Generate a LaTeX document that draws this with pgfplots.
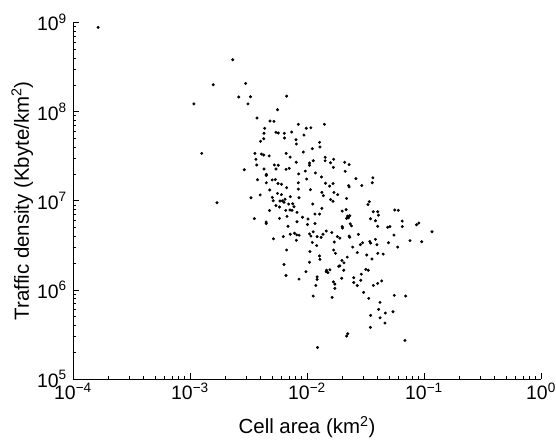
\documentclass[border=0pt]{standalone}
\usepackage{fontspec}
\setmainfont{Liberation Sans}
\usepackage{pgfplots}
\usepackage{pgfplotstable}
\pgfplotsset{compat=1.18}

% Cell area (km^2) versus traffic density (Kbyte/km^2), one row per cell
\pgfplotstableread{
area density
1.64e-4 8.83e8
1.08e-3 1.22e8
1.26e-3 3.40e7
1.58e-3 2.00e8
1.70e-3 9.50e6
2.32e-3 3.82e8
2.61e-3 1.46e8
2.99e-3 2.07e8
3.29e-3 1.47e8
3.13e-3 1.22e8
2.91e-3 2.23e7
3.32e-3 1.08e7
6.70e-3 1.49e8
5.60e-3 1.05e8
3.74e-3 8.47e7
4.83e-3 7.84e7
5.22e-3 7.78e7
8.43e-3 7.20e7
1.41e-2 7.20e7
4.35e-3 6.50e7
9.86e-3 6.50e7
1.08e-2 6.59e7
4.29e-3 5.71e7
5.43e-3 5.86e7
5.68e-3 5.75e7
6.40e-3 5.71e7
7.40e-3 5.90e7
9.42e-3 5.46e7
4.27e-3 4.97e7
6.42e-3 5.06e7
4.01e-3 4.64e7
8.05e-3 4.84e7
8.11e-3 4.33e7
1.28e-2 4.52e7
1.29e-2 4.01e7
1.11e-2 3.84e7
9.30e-3 3.52e7
3.59e-3 3.40e7
4.08e-3 3.34e7
4.27e-3 3.26e7
4.75e-3 3.18e7
6.64e-3 3.40e7
7.18e-3 3.09e7
1.43e-2 3.07e7
1.43e-2 2.81e7
1.69e-2 2.92e7
3.66e-3 2.92e7
1.05e-2 2.65e7
1.05e-2 2.50e7
1.13e-2 2.81e7
8.09e-3 2.70e7
1.59e-2 2.67e7
2.10e-2 2.70e7
2.29e-2 2.54e7
1.68e-2 2.37e7
3.72e-3 2.52e7
5.26e-3 2.52e7
5.68e-3 2.50e7
5.43e-3 2.27e7
4.29e-3 2.27e7
6.62e-3 2.25e7
7.05e-3 2.31e7
9.67e-3 2.15e7
2.12e-2 2.14e7
4.49e-3 1.98e7
4.49e-3 1.92e7
8.49e-3 2.00e7
1.18e-2 2.05e7
3.78e-3 1.72e7
5.04e-3 1.71e7
5.36e-3 1.73e7
5.65e-3 1.56e7
6.05e-3 1.53e7
8.43e-3 1.59e7
9.94e-3 1.75e7
1.33e-2 1.85e7
1.67e-2 1.56e7
1.56e-2 1.46e7
1.44e-2 1.57e7
2.27e-2 1.48e7
2.29e-2 1.43e7
2.62e-2 1.77e7
2.94e-2 1.48e7
3.66e-2 1.81e7
3.61e-2 1.59e7
4.49e-3 1.59e7
6.70e-3 1.40e7
8.43e-3 1.35e7
4.80e-3 1.32e7
1.07e-2 1.33e7
1.34e-2 1.24e7
1.38e-2 1.14e7
1.70e-2 1.24e7
1.83e-2 1.17e7
3.98e-3 1.16e7
5.60e-3 1.21e7
6.05e-3 1.17e7
5.05e-3 1.09e7
5.14e-3 1.00e7
6.49e-3 1.04e7
7.20e-3 1.11e7
8.54e-3 1.08e7
6.36e-3 9.60e6
5.88e-3 9.93e6
6.15e-3 9.98e6
7.55e-3 9.25e6
7.74e-3 8.57e6
5.43e-3 8.83e6
5.82e-3 8.50e6
6.98e-3 9.18e6
1.59e-2 1.03e7
1.67e-2 9.87e6
2.18e-2 1.06e7
1.12e-2 9.18e6
3.32e-2 9.06e6
3.41e-2 9.75e6
4.78e-3 7.76e6
6.58e-3 7.80e6
7.16e-3 7.87e6
7.45e-3 7.80e6
8.22e-3 7.41e6
6.75e-3 6.68e6
5.82e-3 6.34e6
3.55e-3 6.31e6
4.48e-3 5.77e6
4.48e-3 5.55e6
6.88e-3 5.17e6
9.15e-3 6.53e6
1.02e-2 6.23e6
8.22e-3 5.81e6
1.17e-2 7.09e6
1.28e-2 7.09e6
1.34e-2 8.22e6
1.17e-2 5.55e6
1.01e-2 5.41e6
2.00e-2 7.66e6
2.16e-2 7.96e6
2.22e-2 6.73e6
2.32e-2 6.79e6
2.26e-2 6.44e6
2.18e-2 6.34e6
2.00e-2 5.13e6
2.01e-2 4.94e6
2.34e-2 5.51e6
2.40e-2 5.23e6
3.68e-2 7.53e6
4.02e-2 7.53e6
4.08e-2 6.88e6
3.49e-2 6.28e6
3.85e-2 5.97e6
4.02e-2 5.17e6
4.90e-2 5.04e6
5.12e-2 5.13e6
5.63e-2 7.87e6
6.03e-2 7.80e6
6.51e-2 5.92e6
6.52e-2 5.13e6
8.63e-2 5.37e6
9.03e-2 5.62e6
1.17e-1 4.49e6
1.46e-2 4.57e6
1.37e-2 4.21e6
1.63e-2 4.40e6
1.82e-2 3.96e6
1.91e-2 3.81e6
2.29e-2 4.02e6
2.32e-2 3.90e6
2.75e-2 4.20e6
5.54e-2 4.12e6
5.17e-3 3.74e6
6.27e-3 3.96e6
7.20e-3 4.21e6
7.82e-3 4.32e6
8.17e-3 4.14e6
8.57e-3 4.10e6
8.11e-3 3.60e6
1.05e-2 4.25e6
1.08e-2 4.02e6
1.13e-2 4.48e6
1.22e-2 3.96e6
1.32e-2 3.88e6
1.11e-2 3.41e6
1.71e-2 3.44e6
2.99e-2 3.38e6
2.86e-2 3.22e6
3.44e-2 3.50e6
3.50e-2 3.35e6
3.85e-2 3.69e6
3.96e-2 3.21e6
4.97e-2 3.38e6
5.96e-2 3.02e6
7.59e-2 3.57e6
9.56e-2 3.47e6
2.46e-2 3.02e6
1.69e-2 2.80e6
1.75e-2 2.57e6
2.69e-2 2.62e6
3.24e-2 2.46e6
4.03e-2 2.57e6
4.48e-2 2.52e6
6.70e-3 2.80e6
1.06e-2 2.69e6
1.21e-2 3.14e6
1.28e-2 2.40e6
1.29e-2 2.20e6
6.36e-3 1.93e6
6.62e-3 1.45e6
8.54e-3 1.32e6
9.80e-3 1.60e6
1.05e-2 2.04e6
1.22e-2 1.40e6
1.22e-2 1.31e6
1.19e-2 1.12e6
1.13e-2 8.52e5
1.47e-2 1.66e6
1.51e-2 1.56e6
1.57e-2 1.68e6
1.46e-2 1.60e6
1.68e-2 1.23e6
1.73e-2 1.16e6
1.73e-2 1.04e6
1.64e-2 8.24e5
1.87e-2 1.84e6
1.91e-2 1.86e6
1.99e-2 2.14e6
2.07e-2 2.01e6
2.21e-2 2.33e6
2.06e-2 1.66e6
1.98e-2 1.35e6
3.18e-2 1.70e6
3.34e-2 1.66e6
3.59e-2 2.22e6
2.91e-2 1.50e6
2.88e-2 1.28e6
2.51e-2 1.37e6
2.51e-2 1.21e6
2.69e-2 1.12e6
3.05e-2 9.38e5
3.37e-2 8.03e5
3.69e-2 1.12e6
4.02e-2 1.18e6
4.35e-2 1.26e6
5.57e-2 8.67e5
6.98e-2 8.52e5
4.21e-2 7.24e5
4.10e-2 6.04e5
4.67e-2 5.49e5
5.43e-2 5.68e5
3.50e-2 5.17e5
4.21e-2 4.86e5
4.64e-2 4.24e5
3.48e-2 3.79e5
6.88e-2 2.71e5
2.23e-2 3.22e5
2.18e-2 3.03e5
1.23e-2 2.26e5
}\celldata

\begin{document}
\begin{tikzpicture}
\useasboundingbox (-73bp,-65bp) rectangle (483bp,379bp);
\begin{loglogaxis}[
  scale only axis,
  width=468bp, height=356.5bp,
  xmin=1e-4, xmax=1, ymin=1e5, ymax=1e9,
  axis lines=left,
  axis line style={-, line width=0.6pt},
  tick style={black, line width=0.5pt},
  major tick length=6bp, minor tick length=3bp,
  tick align=inside,
  xtick={1e-4,1e-3,1e-2,1e-1,1},
  xticklabels={10\textsuperscript{\textminus4},10\textsuperscript{\textminus3},10\textsuperscript{\textminus2},10\textsuperscript{\textminus1},10\textsuperscript{0}},
  ytick={1e5,1e6,1e7,1e8,1e9},
  yticklabels={10\textsuperscript{5},10\textsuperscript{6},10\textsuperscript{7},10\textsuperscript{8},10\textsuperscript{9}},
  every tick label/.append style={font=\fontsize{19.5}{22}\selectfont},
  xticklabel style={anchor=base, yshift=-21bp, inner sep=0pt},
  yticklabel style={anchor=east, inner sep=0pt, xshift=-6bp},
  every axis label/.append style={font=\fontsize{20.5}{24}\selectfont},
  xlabel={Cell area (km\textsuperscript{2})},
  ylabel={Traffic density (Kbyte/km\textsuperscript{2})},
  xlabel style={at={([yshift=-55bp]axis description cs:0.5,0)}, anchor=base},
  ylabel style={at={([xshift=-44bp]axis description cs:0,0.5)}, anchor=base, rotate=0},
  clip=false,
]
\addplot[only marks, mark=*, mark size=1.3bp, black] table[x=area, y=density] {\celldata};
\end{loglogaxis}
\end{tikzpicture}
\end{document}
